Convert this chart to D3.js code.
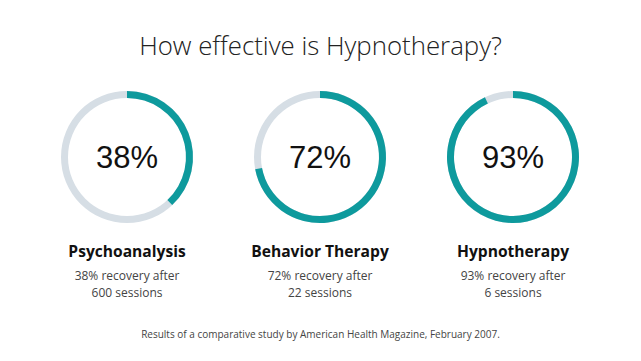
<!DOCTYPE html>
<html>
<head>
<meta charset="utf-8">
<script src="https://cdn.jsdelivr.net/npm/d3@7"></script>
<style>
  body { margin: 0; background: #fff; }
  text { font-family: "Open Sans", sans-serif; }
</style>
</head>
<body>
<script>
var names = ["Psychoanalysis", "Behavior Therapy", "Hypnotherapy"];
var values = [38, 72, 93];
var lines1 = ["38% recovery after", "72% recovery after", "93% recovery after"];
var lines2 = ["600 sessions", "22 sessions", "6 sessions"];

var width = 641, height = 361;
var outer = 66, thick = 7;

var svg = d3.select("body").append("svg")
    .attr("width", width)
    .attr("height", height);

svg.append("text")
    .attr("x", width / 2).attr("y", 55)
    .attr("text-anchor", "middle")
    .style("font-size", "25.8px").style("font-weight", 300)
    .attr("fill", "#222")
    .text("How effective is Hypnotherapy?");

var x = d3.scalePoint().domain(names).range([127, 513]);
var angle = d3.scaleLinear().domain([0, 100]).range([0, 2 * Math.PI]);
var arc = d3.arc().innerRadius(outer - thick).outerRadius(outer).startAngle(0);

var data = names.map(function(n, i){ return {name: n, value: values[i], l1: lines1[i], l2: lines2[i]}; });

var g = svg.selectAll("g.ring").data(data).enter().append("g")
    .attr("class", "ring")
    .attr("transform", function(d){ return "translate(" + x(d.name) + ",157)"; });

g.append("path").attr("d", arc({endAngle: 2 * Math.PI})).attr("fill", "#d6dee5");
g.append("path").attr("d", function(d){ return arc({endAngle: angle(d.value)}); }).attr("fill", "#0e9a9d");

g.append("text")
    .attr("y", 11).attr("text-anchor", "middle")
    .style("font-family", "'Liberation Sans', Arial, sans-serif").style("font-size", "31px")
    .attr("fill", "#111")
    .text(function(d){ return d.value + "%"; });

g.append("text")
    .attr("y", 100).attr("text-anchor", "middle")
    .style("font-size", "15.6px").style("font-weight", 700)
    .attr("fill", "#111")
    .text(function(d){ return d.name; });

g.append("text")
    .attr("y", 123).attr("text-anchor", "middle")
    .style("font-size", "12px").attr("fill", "#444")
    .text(function(d){ return d.l1; });

g.append("text")
    .attr("y", 140).attr("text-anchor", "middle")
    .style("font-size", "12px").attr("fill", "#444")
    .text(function(d){ return d.l2; });

svg.append("text")
    .attr("x", width / 2).attr("y", 338)
    .attr("text-anchor", "middle")
    .style("font-size", "10px").attr("fill", "#444")
    .text("Results of a comparative study by American Health Magazine, February 2007.");
</script>
</body>
</html>
